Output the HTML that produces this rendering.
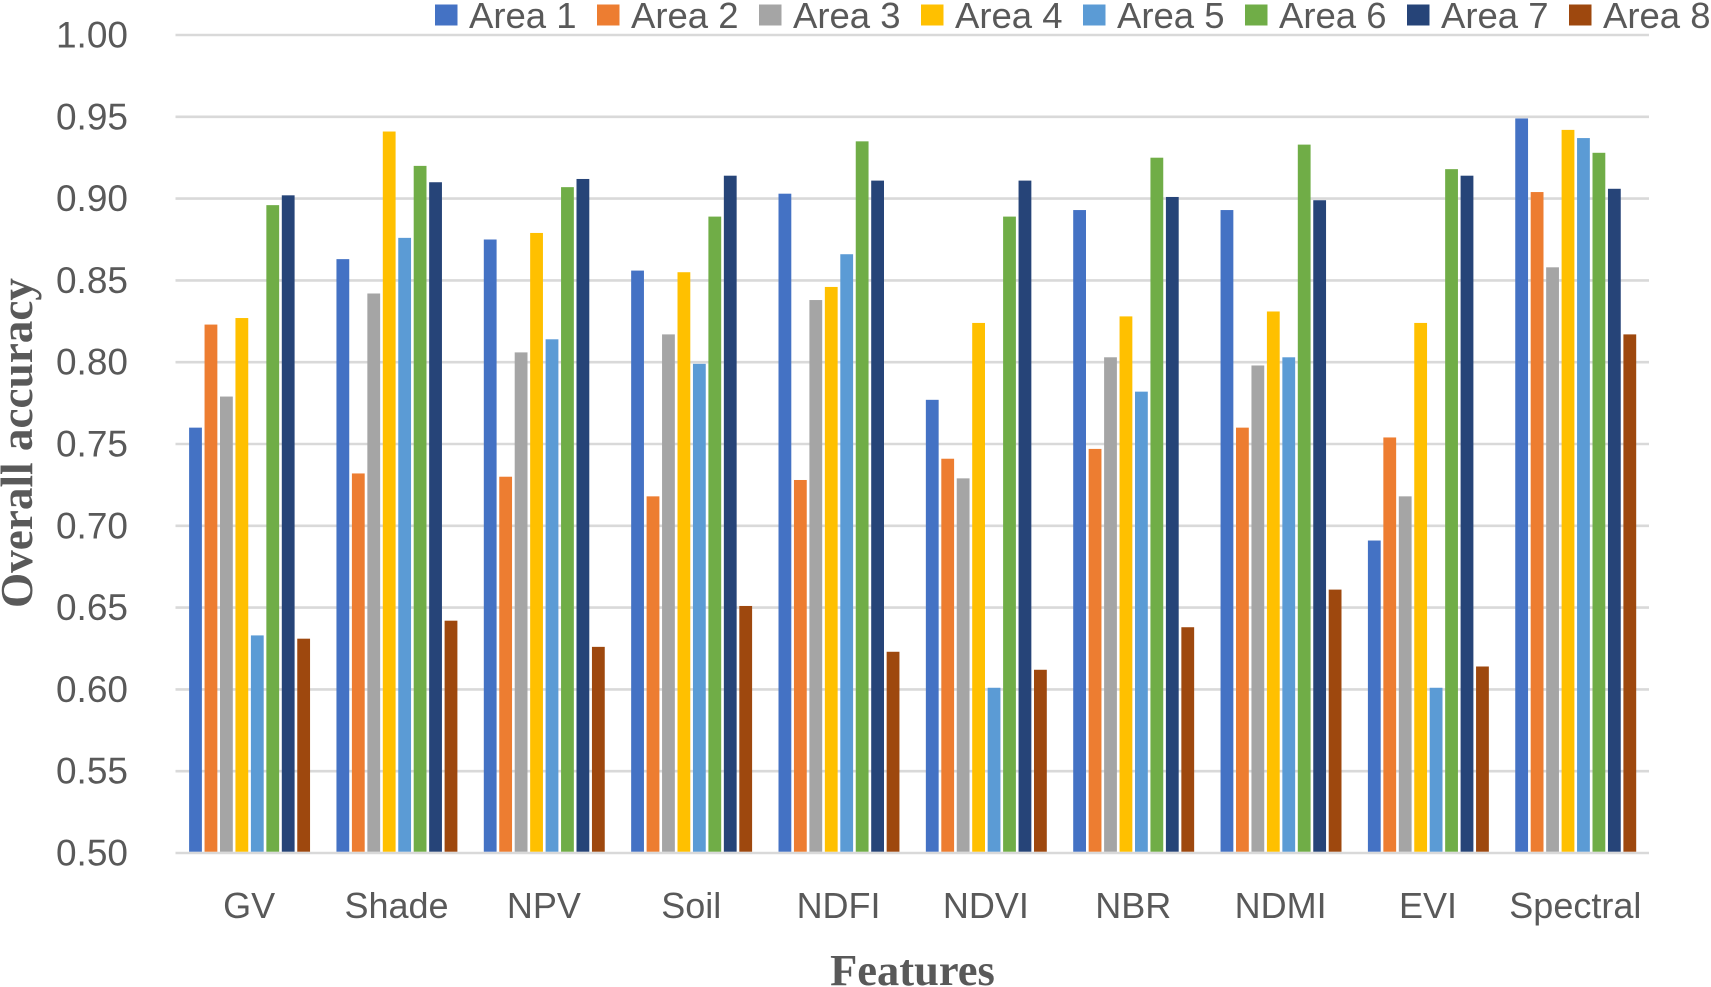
<!DOCTYPE html>
<html lang="en">
<head>
<meta charset="utf-8">
<title>Overall accuracy by feature and area</title>
<style>
html,body{margin:0;padding:0;background:#fff;width:1711px;height:987px;overflow:hidden}
svg{display:block}
.tick,.cat,.leg{font-family:"Liberation Sans",sans-serif;fill:#595959}
.title{font-family:"Liberation Serif",serif;font-weight:bold;fill:#595959}
</style>
</head>
<body>
<svg id="chart" xmlns="http://www.w3.org/2000/svg" width="1711" height="987" viewBox="0 0 1711 987">
  <g id="grid"></g>
  <g id="y-ticks"></g>
  <g id="bars"></g>
  <g id="x-labels"></g>
  <g id="legend"></g>
  <text class="title" transform="translate(32,443) rotate(-90)" text-anchor="middle" font-size="45" textLength="330" lengthAdjust="spacingAndGlyphs">Overall accuracy</text>
  <text class="title" x="912.5" y="985" text-anchor="middle" font-size="44.5">Features</text>
</svg>
<script>
const categories = ["GV","Shade","NPV","Soil","NDFI","NDVI","NBR","NDMI","EVI","Spectral"];
const seriesNames = ["Area 1","Area 2","Area 3","Area 4","Area 5","Area 6","Area 7","Area 8"];
const seriesColors = ["#4472c4","#ed7d31","#a5a5a5","#ffc000","#5b9bd5","#70ad47","#264478","#9e480e"];
const area1 = [0.760,0.863,0.875,0.856,0.903,0.777,0.893,0.893,0.691,0.949];
const area2 = [0.823,0.732,0.730,0.718,0.728,0.741,0.747,0.760,0.754,0.904];
const area3 = [0.779,0.842,0.806,0.817,0.838,0.729,0.803,0.798,0.718,0.858];
const area4 = [0.827,0.941,0.879,0.855,0.846,0.824,0.828,0.831,0.824,0.942];
const area5 = [0.633,0.876,0.814,0.799,0.866,0.601,0.782,0.803,0.601,0.937];
const area6 = [0.896,0.920,0.907,0.889,0.935,0.889,0.925,0.933,0.918,0.928];
const area7 = [0.902,0.910,0.912,0.914,0.911,0.911,0.901,0.899,0.914,0.906];
const area8 = [0.631,0.642,0.626,0.651,0.623,0.612,0.638,0.661,0.614,0.817];
const seriesValues = [area1,area2,area3,area4,area5,area6,area7,area8];
const yTicks = [0.50,0.55,0.60,0.65,0.70,0.75,0.80,0.85,0.90,0.95,1.00];

const NS = "http://www.w3.org/2000/svg";
const plot = {left:175.5, right:1649, top:35, bottom:853};
const yMin = 0.5, yMax = 1.0;
const catWidth = (plot.right - plot.left) / categories.length;
const barStep = 15.45, barWidth = 12.8;
const groupWidth = barStep * (seriesNames.length - 1) + barWidth;

function yScale(v){ return plot.bottom - (v - yMin) / (yMax - yMin) * (plot.bottom - plot.top); }
function catCenter(i){ return plot.left + catWidth * (i + 0.5); }
function barX(c, s){ return catCenter(c) - groupWidth / 2 + barStep * s + 0.4; }
function make(tag, attrs, parent){
  const el = document.createElementNS(NS, tag);
  for (const k in attrs) el.setAttribute(k, attrs[k]);
  parent.appendChild(el);
  return el;
}

const gridG = document.getElementById("grid");
const tickG = document.getElementById("y-ticks");
yTicks.forEach(function(t){
  const line = make("line", {x1:plot.left, x2:plot.right, y1:yScale(t), y2:yScale(t), stroke:"#d9d9d9", "stroke-width":2.6}, gridG);
  
  
  const label = make("text", {class:"tick", x:128, y:yScale(t) + 12.5, "text-anchor":"end", "font-size":37}, tickG);
  
  
  label.textContent = t.toFixed(2);
});

const barG = document.getElementById("bars");
seriesValues.forEach(function(values, s){
  values.forEach(function(v, c){
    const bar = make("rect", {x:barX(c, s), y:yScale(v), width:barWidth, height:plot.bottom - 1.3 - yScale(v), fill:seriesColors[s]}, barG);
    
    
  });
});

const xG = document.getElementById("x-labels");
categories.forEach(function(name, i){
  const label = make("text", {class:"cat", x:catCenter(i), y:918, "text-anchor":"middle", "font-size":36}, xG);
  
  
  label.textContent = name;
});

const legG = document.getElementById("legend");
seriesNames.forEach(function(name, i){
  const x0 = 435 + 162 * i;
  const swatch = make("rect", {x:x0, y:4.5, width:22.5, height:21, fill:seriesColors[i]}, legG);
  
  
  const label = make("text", {class:"leg", x:x0 + 34, y:28, "font-size":36.5}, legG);
  
  
  label.textContent = name;
});
</script>
</body>
</html>
